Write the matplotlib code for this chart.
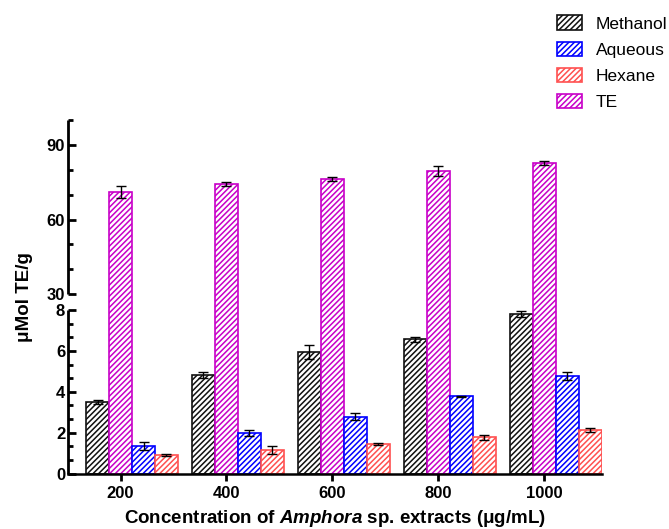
import matplotlib

matplotlib.use("Agg")

import matplotlib.pyplot as plt
import numpy as np
from matplotlib.ticker import FixedLocator

# values (lower segment 0-8, upper segment 30-100)
concentrations = ["200", "400", "600", "800", "1000"]
methanol = [3.48, 4.82, 5.94, 6.56, 7.80]
methanol_err = [0.10, 0.15, 0.36, 0.11, 0.16]
aqueous = [1.35, 1.97, 2.78, 3.78, 4.77]
aqueous_err = [0.20, 0.15, 0.18, 0.03, 0.21]
hexane = [0.89, 1.15, 1.43, 1.77, 2.14]
hexane_err = [0.05, 0.21, 0.05, 0.13, 0.11]
te = [71.1, 74.2, 76.3, 79.4, 82.8]
te_err = [2.4, 0.9, 0.9, 2.0, 0.8]

y_major = [0, 2, 4, 6, 8, 30, 60, 90]
y_minor = [2 / 3, 4 / 3, 8 / 3, 10 / 3, 14 / 3, 16 / 3, 20 / 3, 22 / 3, 40, 50, 70, 80, 100]

plt.rcParams["font.family"] = ["Liberation Sans", "DejaVu Sans"]
plt.rcParams["mathtext.fontset"] = "custom"
plt.rcParams["mathtext.bfit"] = "Liberation Sans:italic:bold"
plt.rcParams["hatch.linewidth"] = 1.1

# piecewise-linear y scale: 0-8 stretched, 8-30 squeezed into the break, 30-100 compressed
BREAK_Y = [-100, 0, 8, 30, 100, 1000]
BREAK_D = [-2044, 0, 163.5, 179.3, 353.5, 353.5 + 900 * 2.489]


def fwd(y):
    return np.interp(y, BREAK_Y, BREAK_D)


def inv(d):
    return np.interp(d, BREAK_D, BREAK_Y)


fig = plt.figure(figsize=(6.69, 5.29), dpi=100)
ax = fig.add_axes([68 / 669, 55.5 / 529, 533.6 / 669, 353.5 / 529])
ax.set_yscale("function", functions=(fwd, inv))

x = np.arange(len(concentrations))
w = 0.217
series = [
    ("Methanol", methanol, methanol_err, "#111111", -1),
    ("TE", te, te_err, "#C800C8", 0),
    ("Aqueous", aqueous, aqueous_err, "#0000FF", 1),
    ("Hexane", hexane, hexane_err, "#FF5050", 2),
]
bars = {}
for name, vals, err, color, off in series:
    bars[name] = ax.bar(x + off * w, vals, width=w, facecolor="white",
                        edgecolor=color, hatch="//////", linewidth=1.2, label=name, zorder=2)
    ax.errorbar(x + off * w, vals, yerr=err, fmt="none", ecolor="black",
                elinewidth=1, capsize=3.8, capthick=1, zorder=3)

ax.set_xlim(-0.496, 4.543)
ax.set_ylim(0, 100)

for side in ("top", "right", "left"):
    ax.spines[side].set_visible(False)
ax.spines["bottom"].set_linewidth(1.8)
ax.spines["bottom"].set_zorder(4)

# broken y axis line
trans = ax.get_yaxis_transform()
for lo, hi in [(0, 8), (30, 100)]:
    ax.plot([0, 0], [lo, hi], transform=trans, color="black", lw=2,
            clip_on=False, solid_capstyle="butt", zorder=4)

ax.yaxis.set_major_locator(FixedLocator(y_major))
ax.yaxis.set_minor_locator(FixedLocator(y_minor))
ax.set_yticklabels([str(v) for v in y_major])
ax.tick_params(axis="y", which="major", direction="in", length=5.5, width=2, pad=2,
               labelsize=12)
ax.tick_params(axis="y", which="minor", direction="in", length=3.5, width=2)
for lab in ax.get_yticklabels():
    lab.set_fontweight("bold")

ax.set_xticks(x)
ax.set_xticklabels(concentrations, fontweight="bold")
ax.tick_params(axis="x", direction="out", length=5, width=2, pad=4, labelsize=12)

ax.set_ylabel("μMol TE/g", fontsize=13.5, fontweight="bold", labelpad=10)
ax.set_xlabel(r"Concentration of $\mathbfit{Amphora}$ sp. extracts (μg/mL)",
              fontsize=13.5, fontweight="bold", labelpad=5)

order = ["Methanol", "Aqueous", "Hexane", "TE"]
fig.legend([bars[k] for k in order], order, loc="upper left",
           bbox_to_anchor=(557 / 669, 1 - 15.5 / 529), frameon=False, borderpad=0,
           borderaxespad=0, handlelength=1.44, handleheight=0.92, handletextpad=0.8,
           labelspacing=0.56, fontsize=12.5)

fig.savefig("out.png", dpi=100)
